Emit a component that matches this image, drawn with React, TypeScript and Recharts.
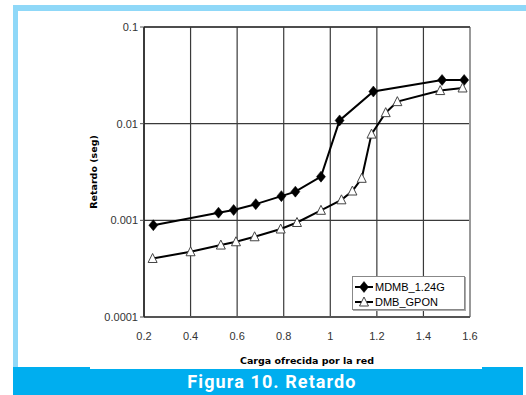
import React from 'react';
import { LineChart, Line, XAxis, YAxis, CartesianGrid, Legend, ReferenceLine } from 'recharts';

// Carga ofrecida por la red (x) and Retardo (seg) (y)
const mdmbLoad = [0.24, 0.52, 0.585, 0.68, 0.79, 0.85, 0.96, 1.04, 1.185, 1.48, 1.575];
const mdmbDelay = [0.00089, 0.0012, 0.00128, 0.00147, 0.00178, 0.00198, 0.00283, 0.0108, 0.0215, 0.0283, 0.0283];
const gponLoad = [0.237, 0.40, 0.53, 0.595, 0.675, 0.787, 0.857, 0.96, 1.048, 1.095, 1.135, 1.177, 1.238, 1.288, 1.472, 1.568];
const gponDelay = [0.000403, 0.000473, 0.000555, 0.0006, 0.000676, 0.000813, 0.00095, 0.00127, 0.00163, 0.00201, 0.00272, 0.0078, 0.013, 0.0169, 0.022, 0.0234];
const xTicks = [0.2, 0.4, 0.6, 0.8, 1, 1.2, 1.4, 1.6];
const yTicks = [0.0001, 0.001, 0.01, 0.1];
const seriesNames = ['MDMB_1.24G', 'DMB_GPON'];

const mdmbData = mdmbLoad.map((x, i) => ({ x, y: mdmbDelay[i] }));
const gponData = gponLoad.map((x, i) => ({ x, y: gponDelay[i] }));

const NARROW = '"Liberation Sans Narrow", "Arial Narrow", Arial, sans-serif';

const Diamond = (props: any) => {
  const { cx, cy } = props;
  if (cx == null || cy == null) return null;
  return <path d={`M${cx},${cy - 5.5} L${cx + 4.5},${cy} L${cx},${cy + 5.5} L${cx - 4.5},${cy} Z`} fill="#000" stroke="#000" strokeWidth={0.5} />;
};

const Triangle = (props: any) => {
  const { cx, cy } = props;
  if (cx == null || cy == null) return null;
  return <path d={`M${cx},${cy - 5} L${cx + 4.5},${cy + 4} L${cx - 4.5},${cy + 4} Z`} fill="#fff" stroke="#444" strokeWidth={1} />;
};

const renderLegend = () => (
  <div style={{ width: 113, height: 34, border: '1px solid #888', boxShadow: '1px 1px 0 #aaa', background: '#fff', boxSizing: 'border-box', padding: '2px 0 0 1px', fontFamily: NARROW, fontSize: 11, color: '#000' }}>
    {seriesNames.map((name, i) => (
      <div key={name} style={{ display: 'flex', alignItems: 'center', height: 15 }}>
        <svg width={20} height={14} style={{ marginRight: 1 }}>
          <line x1={1} y1={7} x2={19} y2={7} stroke="#000" strokeWidth={2} />
          {i === 0 ? <Diamond cx={10} cy={7} /> : <Triangle cx={10} cy={7} />}
        </svg>
        <span>{name}</span>
      </div>
    ))}
  </div>
);

export default function App() {
  return (
    <div style={{ position: 'absolute', left: 0, top: 0, width: 526, height: 395, background: '#fff', overflow: 'hidden' }}>
      <div style={{ position: 'absolute', left: 13, top: 5, width: 513, height: 6, background: '#8fd8f8' }} />
      <div style={{ position: 'absolute', left: 13, top: 5, width: 5, height: 363, background: '#8fd8f8' }} />
      <div style={{ position: 'absolute', left: 13, top: 367, width: 510, height: 28, background: '#00aeef' }} />
      <div style={{ position: 'absolute', left: 90, top: 367, width: 392, height: 2, background: '#fff' }} />
      <div style={{ position: 'absolute', left: 13, top: 369, width: 510, height: 26, color: '#fff', fontFamily: 'Roboto, Arial, sans-serif', fontWeight: 700, fontSize: 18, letterSpacing: 1.1, textAlign: 'center', lineHeight: '26px' }}>
        <span style={{ position: 'relative', left: 4 }}>Figura 10. Retardo</span>
      </div>
      <div style={{ position: 'absolute', left: 0, top: 0 }}>
        <LineChart width={526} height={395} margin={{ top: 27, right: 56, left: 0, bottom: 0 }}>
          <CartesianGrid stroke="#3a3a3a" strokeWidth={1.2} fill="none" />
          <XAxis
            type="number"
            dataKey="x"
            domain={[0.2, 1.6]}
            ticks={xTicks}
            allowDataOverflow
            height={78}
            tickLine={false}
            tickSize={6}
            tickMargin={9}
            axisLine={{ stroke: '#555', strokeWidth: 2 }}
            tick={{ fill: '#333', fontSize: 11, fontFamily: NARROW }}
            tickFormatter={(v: number) => String(v)}
            label={{ value: 'Carga ofrecida por la red', position: 'insideTop', offset: 40, style: { fontFamily: '"DejaVu Sans", Verdana, sans-serif', fontWeight: 700, fontSize: 9.5, fill: '#000' } }}
          />
          <YAxis
            type="number"
            dataKey="y"
            scale="log"
            domain={[0.0001, 0.1]}
            ticks={yTicks}
            allowDataOverflow
            width={144}
            tickSize={4}
            tickMargin={2}
            tickLine={{ stroke: '#555' }}
            axisLine={{ stroke: '#222', strokeWidth: 1.5 }}
            tick={{ fill: '#333', fontSize: 11, fontFamily: NARROW }}
            tickFormatter={(v: number) => String(v)}
            label={{ value: 'Retardo (seg)', angle: -90, position: 'insideLeft', offset: 94, style: { fontFamily: '"DejaVu Sans", Verdana, sans-serif', fontWeight: 700, fontSize: 9.5, fill: '#000', textAnchor: 'middle' } }}
          />
          <ReferenceLine x={1.6} stroke="#999" strokeWidth={2} />
          <ReferenceLine y={0.1} stroke="#333" strokeWidth={1.5} />
          <Legend
            layout="horizontal"
            verticalAlign="middle"
            align="center"
            content={renderLegend}
            wrapperStyle={{ left: 352, top: 276, width: 115, height: 36 }}
          />
          <Line data={mdmbData} dataKey="y" name={seriesNames[0]} stroke="#000" strokeWidth={2} dot={<Diamond />} activeDot={false} isAnimationActive={false} />
          <Line data={gponData} dataKey="y" name={seriesNames[1]} stroke="#000" strokeWidth={2} dot={<Triangle />} activeDot={false} isAnimationActive={false} />
        </LineChart>
      </div>
    </div>
  );
}
